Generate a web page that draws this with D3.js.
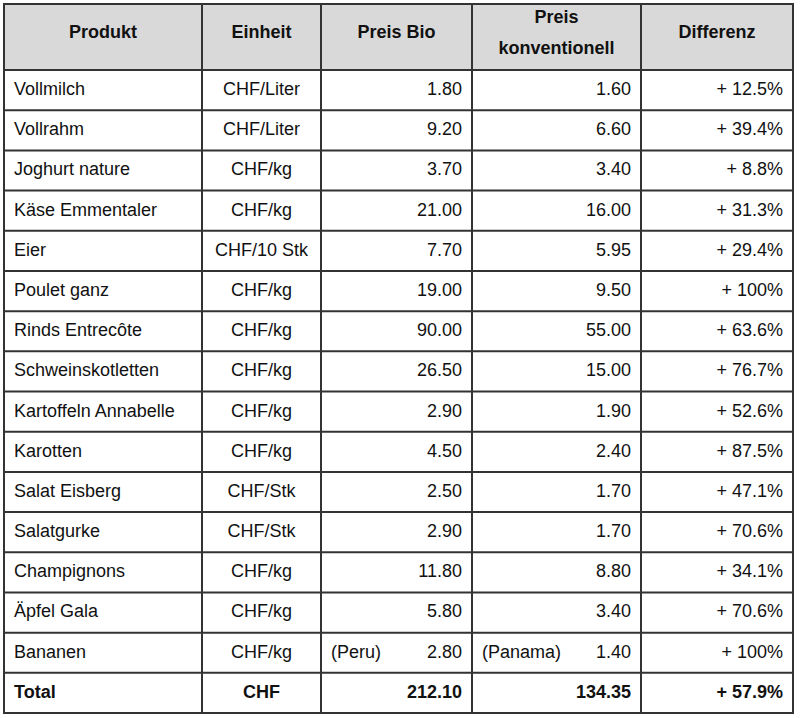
<!DOCTYPE html>
<html>
<head>
<meta charset="utf-8">
<script src="https://cdn.jsdelivr.net/npm/d3@7"></script>
<style>
  html, body { margin: 0; padding: 0; background: #fff; }
  svg { display: block; }
  text { font-family: "Liberation Sans", Arial, sans-serif; fill: #111; }
  .head { font-weight: bold; }
  .total { font-weight: bold; }
</style>
</head>
<body>
<script>
// Table data
const produkte = ["Vollmilch", "Vollrahm", "Joghurt nature", "Käse Emmentaler", "Eier",
  "Poulet ganz", "Rinds Entrecôte", "Schweinskotletten", "Kartoffeln Annabelle", "Karotten",
  "Salat Eisberg", "Salatgurke", "Champignons", "Äpfel Gala", "Bananen"];
const einheiten = ["CHF/Liter", "CHF/Liter", "CHF/kg", "CHF/kg", "CHF/10 Stk",
  "CHF/kg", "CHF/kg", "CHF/kg", "CHF/kg", "CHF/kg",
  "CHF/Stk", "CHF/Stk", "CHF/kg", "CHF/kg", "CHF/kg"];
const preisBio = [1.80, 9.20, 3.70, 21.00, 7.70, 19.00, 90.00, 26.50, 2.90, 4.50, 2.50, 2.90, 11.80, 5.80, 2.80];
const preisKonv = [1.60, 6.60, 3.40, 16.00, 5.95, 9.50, 55.00, 15.00, 1.90, 2.40, 1.70, 1.70, 8.80, 3.40, 1.40];
const differenz = [12.5, 39.4, 8.8, 31.3, 29.4, 100, 63.6, 76.7, 52.6, 87.5, 47.1, 70.6, 34.1, 70.6, 100];
const herkunftBio = {14: "(Peru)"};
const herkunftKonv = {14: "(Panama)"};
const total = {label: "Total", einheit: "CHF", bio: 212.10, konv: 134.35, diff: 57.9};
const header = [["Produkt"], ["Einheit"], ["Preis Bio"], ["Preis", "konventionell"], ["Differenz"]];

// layout
const width = 800, height = 718;
const colEdges = [4, 202, 321, 472, 641, 793];
const tableTop = 4, headBottom = 70, tableBottom = 713;
const fontSize = 18;

const svg = d3.select("body").append("svg")
  .attr("width", width)
  .attr("height", height);

const rowIds = d3.range(produkte.length + 1);
const y = d3.scaleBand().domain(rowIds).range([headBottom, tableBottom]);

const fmtPrice = d3.format(".2f");
const fmtDiff = v => "+ " + (Number.isInteger(v) ? v : v.toFixed(1)) + "%";

// header background
svg.append("rect")
  .attr("x", colEdges[0]).attr("y", tableTop)
  .attr("width", colEdges[5] - colEdges[0]).attr("height", headBottom - tableTop)
  .attr("fill", "#d9d9d9");

// header text
const headG = svg.append("g");
header.forEach((lines, i) => {
  const cx = (colEdges[i] + colEdges[i + 1]) / 2;
  const t = headG.append("text")
    .attr("class", "head")
    .attr("text-anchor", "middle")
    .attr("font-size", fontSize);
  if (lines.length === 1) {
    t.append("tspan").attr("x", cx).attr("y", 38).text(lines[0]);
  } else {
    t.append("tspan").attr("x", cx).attr("y", 23).text(lines[0]);
    t.append("tspan").attr("x", cx).attr("y", 54).text(lines[1]);
  }
});

// rows
const rows = rowIds.map(i => i < produkte.length ? {
  i: i, p: produkte[i], e: einheiten[i], bio: preisBio[i], konv: preisKonv[i], diff: differenz[i],
  hb: herkunftBio[i], hk: herkunftKonv[i], bold: false
} : {
  i: i, p: total.label, e: total.einheit, bio: total.bio, konv: total.konv, diff: total.diff, bold: true
});

const rowG = svg.selectAll(".row")
  .data(rows)
  .enter()
  .append("g")
  .attr("class", d => d.bold ? "row total" : "row")
  .attr("transform", d => "translate(0," + (y(d.i) + 25) + ")");

const pad = 10;

rowG.append("text")
  .attr("x", colEdges[0] + pad)
  .attr("font-size", fontSize)
  .text(d => d.p);

rowG.append("text")
  .attr("x", (colEdges[1] + colEdges[2]) / 2)
  .attr("text-anchor", "middle")
  .attr("font-size", fontSize)
  .text(d => d.e);

rowG.append("text")
  .attr("x", colEdges[3] - pad)
  .attr("text-anchor", "end")
  .attr("font-size", fontSize)
  .text(d => fmtPrice(d.bio));

rowG.append("text")
  .attr("x", colEdges[4] - pad)
  .attr("text-anchor", "end")
  .attr("font-size", fontSize)
  .text(d => fmtPrice(d.konv));

rowG.append("text")
  .attr("x", colEdges[5] - pad)
  .attr("text-anchor", "end")
  .attr("font-size", fontSize)
  .text(d => fmtDiff(d.diff));

// origin notes (Bananen)
rowG.filter(d => d.hb).append("text")
  .attr("x", colEdges[2] + pad)
  .attr("font-size", fontSize)
  .text(d => d.hb);

rowG.filter(d => d.hk).append("text")
  .attr("x", colEdges[3] + pad)
  .attr("font-size", fontSize)
  .text(d => d.hk);

// grid lines
const lineColor = "#333";
const gridG = svg.append("g")
  .attr("stroke", lineColor)
  .attr("stroke-width", 2);

const hLines = [tableTop, headBottom].concat(rowIds.map(i => y(i) + y.bandwidth()));
gridG.selectAll(".hline")
  .data(hLines)
  .enter()
  .append("line")
  .attr("x1", colEdges[0] - 1).attr("x2", colEdges[5] + 1)
  .attr("y1", d => d).attr("y2", d => d);

gridG.selectAll(".vline")
  .data(colEdges)
  .enter()
  .append("line")
  .attr("x1", d => d).attr("x2", d => d)
  .attr("y1", tableTop).attr("y2", tableBottom);
</script>
</body>
</html>
